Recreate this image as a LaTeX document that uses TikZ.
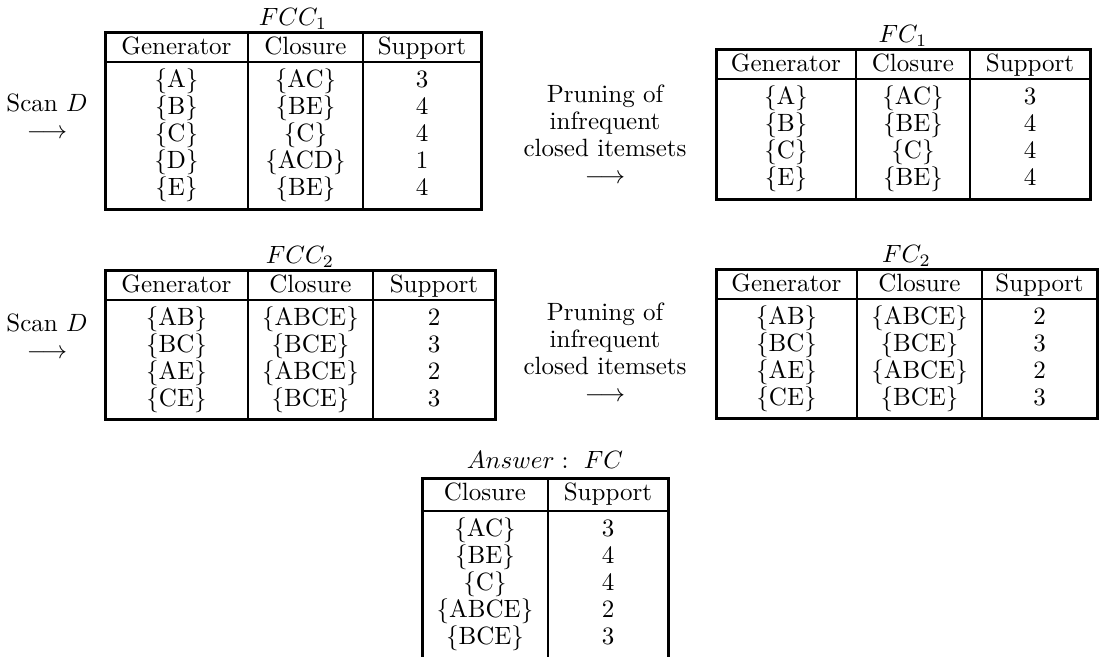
\documentclass[tikz,border=0pt]{standalone}
\usepackage{tikz}

\begin{document}
\begin{tikzpicture}[x=0.4pt, y=-0.4pt,
  every node/.style={font=\fontsize{10}{10.8}\selectfont, inner sep=0pt},
  cell/.style={anchor=base},
  ttl/.style={anchor=base},
  frame/.style={line width=1.2pt},
  rule/.style={line width=0.8pt},
  lbl/.style={align=center, anchor=north}]
\useasboundingbox (0,0) rectangle (1099,657);
% ----- first pass: candidates FCC_1, then FC_1 -----
\node[lbl] (scan1) at (47,93) {Scan $D$\\$\longrightarrow$};
\begin{scope}[shift={(105,33)}]
\draw[frame] (0,0) rectangle (376,177);
\draw[rule] (0,29) -- (376,29);
\draw[rule] (143,0) -- (143,177);
\draw[rule] (258,0) -- (258,177);
\node[ttl] (fcc1) at (188,-7) {$FCC_1$};
\foreach \x/\h/\k in {71.5/Generator/g, 200.5/Closure/c, 317/Support/s}
  \node[cell] (fcc1-\k) at (\x,22) {\h};
\foreach \g/\c/\s [count=\i] in {A/AC/3, B/BE/4, C/C/4, D/ACD/1, E/BE/4}{
  \node[cell] (fcc1-g\i) at (71.5,{55+27*(\i-1)}) {\{\g\}};
  \node[cell] (fcc1-c\i) at (200.5,{55+27*(\i-1)}) {\{\c\}};
  \node[cell] (fcc1-s\i) at (317,{55+27*(\i-1)}) {\s};
}
\end{scope}
\node[lbl] (prune1) at (605,84)
  {Pruning of\\infrequent\\closed itemsets\\$\longrightarrow$};
\begin{scope}[shift={(716,50)}]
\draw[frame] (0,0) rectangle (374,150);
\draw[rule] (0,29) -- (374,29);
\draw[rule] (140,0) -- (140,150);
\draw[rule] (254,0) -- (254,150);
\node[ttl] (fc1) at (187,-7) {$FC_1$};
\foreach \x/\h/\k in {70/Generator/g, 197/Closure/c, 314/Support/s}
  \node[cell] (fc1-\k) at (\x,22) {\h};
\foreach \g/\c/\s [count=\i] in {A/AC/3, B/BE/4, C/C/4, E/BE/4}{
  \node[cell] (fc1-g\i) at (70,{55+27*(\i-1)}) {\{\g\}};
  \node[cell] (fc1-c\i) at (197,{55+27*(\i-1)}) {\{\c\}};
  \node[cell] (fc1-s\i) at (314,{55+27*(\i-1)}) {\s};
}
\end{scope}
% ----- second pass: candidates FCC_2, then FC_2 -----
\node[lbl] (scan2) at (47,313) {Scan $D$\\$\longrightarrow$};
\begin{scope}[shift={(105,271)}]
\draw[frame] (0,0) rectangle (390,149);
\draw[rule] (0,29) -- (390,29);
\draw[rule] (143,0) -- (143,149);
\draw[rule] (268,0) -- (268,149);
\node[ttl] (fcc2) at (195,-7) {$FCC_2$};
\foreach \x/\h/\k in {71.5/Generator/g, 205.5/Closure/c, 329/Support/s}
  \node[cell] (fcc2-\k) at (\x,22) {\h};
\foreach \g/\c/\s [count=\i] in {AB/ABCE/2, BC/BCE/3, AE/ABCE/2, CE/BCE/3}{
  \node[cell] (fcc2-g\i) at (71.5,{55+27*(\i-1)}) {\{\g\}};
  \node[cell] (fcc2-c\i) at (205.5,{55+27*(\i-1)}) {\{\c\}};
  \node[cell] (fcc2-s\i) at (329,{55+27*(\i-1)}) {\s};
}
\end{scope}
\node[lbl] (prune2) at (605,302)
  {Pruning of\\infrequent\\closed itemsets\\$\longrightarrow$};
\begin{scope}[shift={(716,270)}]
\draw[frame] (0,0) rectangle (381,149);
\draw[rule] (0,29) -- (381,29);
\draw[rule] (141,0) -- (141,149);
\draw[rule] (266,0) -- (266,149);
\node[ttl] (fc2) at (190.5,-7) {$FC_2$};
\foreach \x/\h/\k in {70.5/Generator/g, 203.5/Closure/c, 323.5/Support/s}
  \node[cell] (fc2-\k) at (\x,22) {\h};
\foreach \g/\c/\s [count=\i] in {AB/ABCE/2, BC/BCE/3, AE/ABCE/2, CE/BCE/3}{
  \node[cell] (fc2-g\i) at (70.5,{55+27*(\i-1)}) {\{\g\}};
  \node[cell] (fc2-c\i) at (203.5,{55+27*(\i-1)}) {\{\c\}};
  \node[cell] (fc2-s\i) at (323.5,{55+27*(\i-1)}) {\s};
}
\end{scope}
% ----- answer: FC, runs off the bottom -----
\begin{scope}[shift={(422,479)}]
\draw[frame] (0,180) -- (0,0) -- (246,0) -- (246,180);
\draw[rule] (0,32) -- (246,32);
\draw[rule] (126,0) -- (126,180);
\node[ttl] (answer) at (123,-10) {$Answer:\ FC$};
\node[cell] (fc-c) at (63,22) {Closure};
\node[cell] (fc-s) at (186,22) {Support};
\foreach \c/\s [count=\i] in {AC/3, BE/4, C/4, ABCE/2, BCE/3}
  \node[cell] (fc-c\i) at (63,{58+27*(\i-1)}) {\{\c\}}
    node[cell] (fc-s\i) at (186,{58+27*(\i-1)}) {\s};
\end{scope}
\end{tikzpicture}
\end{document}
